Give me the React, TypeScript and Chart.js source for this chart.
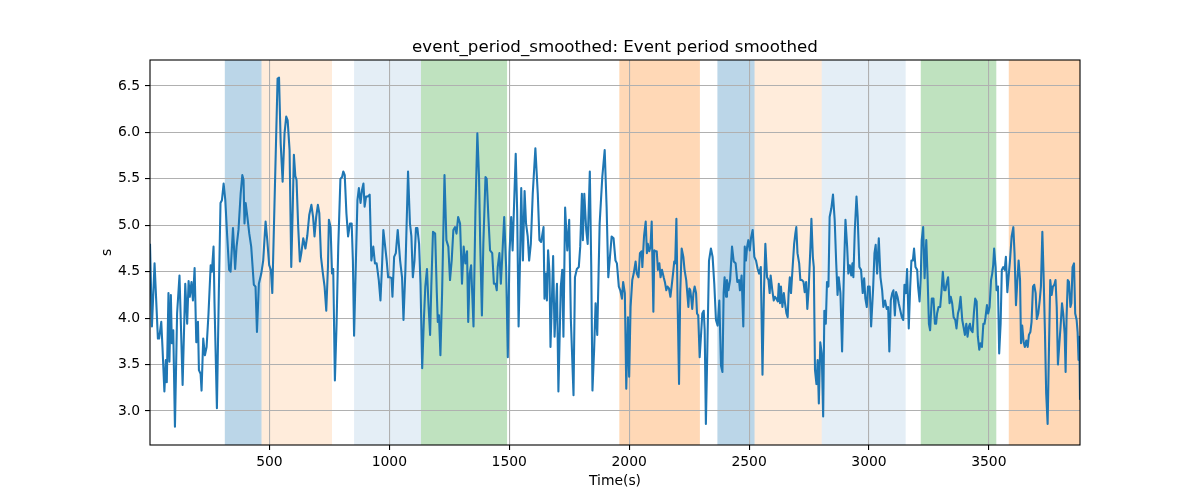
import React, { useEffect, useRef } from 'react';
import { Chart, registerables } from 'chart.js';

Chart.register(...registerables);

// ---- data -------------------------------------------------------------
const timeSec: number[] = [
  // 0 - 490
  2, 10, 21, 35, 40, 49, 54, 62, 68, 72, 79, 83, 89, 93, 99, 106, 115, 125, 138, 149,
  157, 163, 168, 175, 181, 188, 195, 202, 206, 213, 217, 224, 231, 238, 246, 255, 260, 267, 271, 281,
  289, 296, 302, 309, 316, 324, 332, 338, 348, 357, 363, 371, 380, 387, 392, 396, 401, 408, 416, 424,
  435, 442, 448, 456, 466, 474, 484,
  // 490 - 980
  491, 499, 506, 512, 534, 540, 547, 555, 563, 570, 576, 584, 591, 597, 602, 608, 613, 620, 627, 633,
  641, 650, 658, 666, 675, 682, 688, 695, 702, 708, 715, 723, 730, 737, 744, 748, 755, 761, 766, 773,
  780, 787, 796, 803, 808, 814, 821, 828, 836, 843, 848, 853, 861, 867, 873, 880, 886, 892, 897, 903,
  910, 918, 925, 933, 940, 947, 956, 963, 970, 975,
  // 980 - 1450
  989, 995, 1003, 1009, 1013, 1020, 1027, 1035, 1045, 1053, 1059, 1067, 1078, 1086, 1092, 1098, 1105, 1111, 1117, 1124,
  1130, 1137, 1144, 1150, 1157, 1163, 1170, 1175, 1182, 1191, 1198, 1202, 1207, 1213, 1220, 1230, 1238, 1246, 1253, 1260,
  1267, 1274, 1280, 1287, 1295, 1303, 1310, 1317, 1324, 1329, 1335, 1341, 1351, 1359, 1367, 1374, 1379, 1386, 1392, 1401,
  1406, 1413, 1420, 1429, 1436, 1443, 1448,
  // 1450 - 1940
  1452, 1459, 1465, 1470, 1479, 1487, 1494, 1501, 1508, 1514, 1519, 1527, 1533, 1539, 1545, 1550, 1557, 1564, 1570, 1577,
  1583, 1590, 1598, 1609, 1619, 1626, 1633, 1643, 1647, 1653, 1657, 1662, 1668, 1672, 1679, 1683, 1689, 1699, 1705, 1715,
  1721, 1726, 1733, 1742, 1750, 1757, 1768, 1774, 1782, 1790, 1796, 1803, 1807, 1813, 1821, 1827, 1836, 1842, 1847, 1854,
  1860, 1867, 1877, 1888, 1898, 1906, 1913, 1920, 1927, 1935,
  // 1940 - 2410
  1943, 1949, 1957, 1963, 1970, 1975, 1982, 1988, 1995, 2000, 2006, 2013, 2019, 2027, 2032, 2039, 2045, 2052, 2055, 2062,
  2069, 2074, 2078, 2084, 2089, 2094, 2101, 2105, 2110, 2115, 2120, 2126, 2131, 2137, 2144, 2149, 2155, 2160, 2166, 2172,
  2177, 2183, 2188, 2192, 2197, 2202, 2208, 2213, 2219, 2226, 2231, 2238, 2247, 2251, 2255, 2259, 2263, 2268, 2273, 2279,
  2283, 2288, 2294, 2300, 2305, 2311, 2315, 2320, 2326, 2333, 2341, 2348, 2355, 2362, 2369, 2376, 2383, 2389, 2394, 2398,
  2404, 2408,
  // 2410 - 2900
  2414, 2421, 2429, 2436, 2444, 2451, 2458, 2462, 2469, 2476, 2482, 2487, 2492, 2497, 2503, 2508, 2515, 2522, 2529, 2536,
  2542, 2549, 2556, 2562, 2568, 2575, 2581, 2586, 2590, 2597, 2603, 2608, 2614, 2620, 2624, 2629, 2633, 2639, 2645, 2650,
  2656, 2661, 2665, 2670, 2675, 2681, 2688, 2693, 2697, 2702, 2709, 2714, 2721, 2727, 2732, 2738, 2743, 2749, 2756, 2760,
  2766, 2770, 2775, 2781, 2786, 2791, 2797, 2803, 2809, 2814, 2820, 2825, 2831, 2836, 2843, 2850, 2857, 2863, 2869, 2874,
  2881, 2888, 2895,
  // 2900 - 3380
  2902, 2909, 2914, 2920, 2926, 2931, 2935, 2941, 2948, 2953, 2960, 2967, 2974, 2980, 2985, 2991, 2996, 3003, 3009, 3017,
  3023, 3028, 3034, 3041, 3048, 3055, 3060, 3067, 3074, 3080, 3085, 3091, 3097, 3102, 3108, 3113, 3119, 3124, 3131, 3137,
  3143, 3148, 3154, 3159, 3166, 3172, 3177, 3183, 3188, 3194, 3201, 3205, 3211, 3216, 3220, 3226, 3232, 3239, 3244, 3250,
  3255, 3262, 3269, 3275, 3280, 3284, 3290, 3297, 3302, 3308, 3314, 3319, 3325, 3330, 3336, 3341, 3347, 3353, 3360, 3365,
  3371, 3376,
  // 3380 - 3880
  3382, 3389, 3394, 3400, 3406, 3411, 3417, 3421, 3426, 3432, 3438, 3443, 3449, 3454, 3460, 3465, 3471, 3477, 3482, 3486,
  3492, 3497, 3503, 3509, 3514, 3518, 3522, 3528, 3532, 3538, 3543, 3549, 3554, 3560, 3566, 3571, 3577, 3582, 3588, 3595,
  3602, 3607, 3613, 3618, 3624, 3630, 3634, 3639, 3645, 3650, 3656, 3662, 3667, 3673, 3678, 3684, 3689, 3695, 3700, 3706,
  3712, 3717, 3723, 3728, 3734, 3739, 3745, 3751, 3756, 3762, 3767, 3773, 3778, 3783, 3788, 3794, 3799, 3805, 3810, 3816,
  3820, 3824, 3829, 3834, 3840, 3844, 3849, 3855, 3860, 3866, 3870, 3874, 3877, 3880,
];

const periodSec: number[] = [
  // 0 - 490
  4.80, 3.91, 4.59, 3.78, 3.78, 3.96, 3.69, 3.21, 3.55, 3.31, 4.27, 3.53, 4.25, 3.73, 3.87, 2.83, 4.05, 4.46, 3.28, 4.37,
  3.94, 4.40, 4.23, 4.39, 4.19, 4.54, 3.74, 3.96, 3.44, 3.40, 3.22, 3.78, 3.60, 3.69, 4.05, 4.57, 4.50, 4.77, 4.16, 3.03,
  4.27, 5.24, 5.27, 5.45, 5.27, 4.88, 4.52, 4.50, 4.97, 4.53, 4.77, 4.95, 5.34, 5.54, 5.49, 5.02, 5.24, 5.09, 4.91, 4.77,
  4.36, 4.34, 3.85, 4.37, 4.48, 4.62, 5.04,
  // 490 - 980
  4.84, 4.57, 4.52, 4.27, 6.58, 6.59, 5.88, 5.47, 5.99, 6.17, 6.13, 5.81, 4.55, 5.16, 5.76, 5.53, 5.49, 4.98, 4.61, 4.70,
  4.86, 4.75, 4.89, 5.11, 5.22, 5.09, 4.88, 5.09, 5.22, 5.13, 4.66, 4.48, 4.34, 4.08, 4.55, 5.06, 4.98, 4.48, 4.53, 3.33,
  3.94, 4.77, 5.50, 5.52, 5.58, 5.54, 5.13, 4.88, 5.02, 5.02, 4.62, 3.81, 4.66, 5.27, 5.40, 5.24, 5.38, 5.45, 5.20, 5.31,
  5.31, 5.33, 4.62, 4.77, 4.59, 4.59, 4.41, 4.19, 4.59, 4.95,
  // 980 - 1450
  4.62, 4.44, 4.44, 4.43, 4.23, 4.66, 4.70, 4.95, 4.62, 4.44, 3.98, 4.52, 5.58, 5.02, 4.88, 4.44, 4.62, 4.97, 4.97, 4.80,
  4.37, 3.46, 3.98, 4.34, 4.53, 4.16, 3.82, 4.34, 4.93, 4.91, 4.27, 3.96, 4.03, 3.60, 4.27, 5.54, 4.84, 4.77, 4.41, 4.62,
  4.95, 4.98, 4.91, 5.09, 5.02, 4.37, 4.77, 4.59, 4.72, 3.96, 4.48, 4.57, 3.91, 5.16, 5.99, 5.52, 4.80, 4.03, 4.80, 5.52,
  5.50, 5.09, 4.73, 4.70, 4.37, 4.37, 4.30,
  // 1450 - 1940
  4.55, 4.70, 4.37, 4.62, 5.09, 4.55, 3.58, 4.70, 5.09, 4.73, 5.13, 5.77, 5.16, 3.91, 4.62, 5.40, 4.62, 5.37, 5.02, 4.88,
  4.62, 4.80, 5.34, 5.83, 5.34, 4.84, 4.82, 4.98, 4.21, 4.48, 4.19, 4.73, 4.48, 3.69, 4.30, 4.67, 3.80, 4.37, 3.21, 4.34,
  4.52, 3.80, 5.19, 4.73, 5.06, 3.98, 3.17, 4.44, 4.53, 4.55, 4.77, 5.34, 4.84, 5.34, 4.95, 4.80, 5.58, 4.55, 3.22, 3.66,
  4.16, 3.82, 5.02, 5.52, 5.81, 5.20, 4.44, 4.66, 4.88, 4.86,
  // 1940 - 2410
  4.62, 4.59, 4.34, 4.30, 4.21, 4.39, 4.27, 3.24, 4.01, 3.37, 4.12, 4.41, 4.48, 4.61, 4.48, 4.44, 4.70, 4.72, 4.55, 4.88,
  5.04, 4.70, 4.80, 4.72, 4.77, 5.04, 4.07, 4.73, 4.72, 4.72, 4.52, 4.59, 4.44, 4.52, 4.44, 4.39, 4.30, 4.34, 4.32, 4.23,
  4.34, 4.48, 4.61, 4.59, 5.07, 4.19, 3.29, 4.27, 4.75, 4.66, 4.52, 4.41, 4.12, 4.32, 4.30, 4.21, 4.10, 4.27, 4.34, 4.27,
  4.05, 4.03, 3.58, 3.83, 4.05, 4.08, 3.87, 2.86, 3.66, 4.62, 4.75, 4.66, 4.37, 3.98, 3.92, 4.19, 3.49, 3.42, 4.27, 4.44,
  4.23, 4.41,
  // 2410 - 2900
  4.30, 4.41, 4.77, 4.61, 4.59, 4.39, 4.41, 4.30, 4.46, 3.91, 4.77, 4.62, 4.77, 4.84, 4.73, 4.86, 4.95, 4.66, 4.62, 4.53,
  4.48, 4.55, 3.39, 4.27, 4.80, 4.44, 4.41, 4.27, 4.46, 4.30, 4.19, 4.23, 4.21, 4.18, 4.37, 4.16, 4.34, 4.12, 4.27, 4.16,
  4.05, 4.01, 4.27, 4.44, 4.27, 4.52, 4.80, 4.91, 4.98, 4.70, 4.59, 4.41, 4.41, 4.39, 4.28, 4.39, 4.10, 4.34, 4.77, 5.07,
  4.66, 4.55, 3.44, 3.29, 3.55, 3.08, 3.74, 3.62, 2.94, 4.08, 3.94, 4.39, 4.34, 5.09, 5.18, 5.33, 5.06, 4.62, 4.25, 4.44,
  4.27, 3.64, 4.44,
  // 2900 - 3380
  5.06, 4.77, 4.48, 4.57, 4.46, 4.59, 4.44, 4.95, 5.31, 5.09, 4.55, 4.52, 4.27, 4.43, 4.21, 4.12, 4.34, 4.34, 3.91, 4.30,
  4.70, 4.79, 4.48, 4.86, 4.44, 4.30, 4.12, 4.19, 4.10, 4.12, 3.64, 4.19, 4.27, 4.30, 4.03, 4.28, 4.23, 4.16, 4.08, 4.01,
  3.98, 4.36, 4.27, 4.53, 3.89, 4.34, 4.62, 4.62, 4.75, 4.55, 4.52, 4.34, 4.18, 4.44, 4.84, 4.98, 4.43, 4.84, 4.48, 3.94,
  3.87, 4.21, 4.21, 3.94, 3.94, 4.05, 4.12, 4.12, 4.27, 4.50, 4.30, 4.30, 4.39, 4.44, 4.16, 4.23, 4.16, 4.01, 3.98, 3.89,
  4.05, 4.10,
  // 3380 - 3880
  4.23, 3.98, 3.91, 3.82, 3.94, 3.80, 3.91, 3.94, 3.87, 3.85, 4.07, 4.21, 4.18, 3.80, 3.66, 3.73, 3.69, 3.94, 3.94, 4.01,
  4.14, 4.05, 4.12, 4.41, 4.48, 4.57, 4.75, 4.55, 4.30, 4.34, 3.62, 3.94, 4.52, 4.55, 4.52, 4.66, 4.28, 4.44, 4.62, 4.88,
  4.98, 4.70, 4.14, 4.37, 4.62, 4.41, 3.73, 3.92, 3.74, 3.69, 3.76, 3.69, 3.82, 3.85, 3.96, 4.34, 4.36, 4.27, 3.99, 4.05,
  4.19, 4.34, 4.93, 4.48, 3.83, 3.19, 2.86, 3.73, 4.41, 4.25, 4.34, 4.36, 4.41, 4.12, 3.50, 3.73, 3.91, 4.16, 4.05, 3.83,
  3.42, 4.01, 4.41, 4.39, 4.12, 4.16, 4.55, 4.59, 4.05, 3.98, 3.85, 3.55, 3.80, 3.12,
];

// shaded event intervals (seconds) and their kind
const bandStart: number[] = [314, 467, 853, 1132, 1959, 2368, 2523, 2803, 3216, 3583];
const bandEnd: number[] = [467, 761, 1132, 1491, 2295, 2523, 2803, 3153, 3531, 3880];
const bandKind: string[] = ['A', 'B', 'C', 'D', 'E', 'A', 'B', 'C', 'D', 'E'];

const xTicks: number[] = [500, 1000, 1500, 2000, 2500, 3000, 3500];
const yTicks: number[] = [3.0, 3.5, 4.0, 4.5, 5.0, 5.5, 6.0, 6.5];
const yMin = 2.634;
const yMax = 6.78;

const titleText = 'event_period_smoothed: Event period smoothed';
const xLabelText = 'Time(s)';
const yLabelText = 's';

// ---- styles -----------------------------------------------------------
const BAND_FILL: Record<string, string> = {
  A: 'rgba(31,119,180,0.30)',
  B: 'rgba(255,127,14,0.15)',
  C: 'rgba(31,119,180,0.12)',
  D: 'rgba(44,160,44,0.30)',
  E: 'rgba(255,127,14,0.30)',
};
const FONT = '"DejaVu Sans", "Liberation Sans", sans-serif';

export default function App() {
  const canvasRef = useRef<HTMLCanvasElement | null>(null);

  useEffect(() => {
    const canvas = canvasRef.current;
    if (!canvas) return;

    const n = Math.min(timeSec.length, periodSec.length);
    const points = [] as { x: number; y: number }[];
    for (let i = 0; i < n; i++) points.push({ x: timeSec[i], y: periodSec[i] });

    const bandsPlugin = {
      id: 'bands',
      beforeDraw(chart: any) {
        const { ctx, chartArea: a, scales } = chart;
        const xs = scales.x;
        ctx.save();
        ctx.beginPath();
        ctx.rect(a.left, a.top, a.right - a.left, a.bottom - a.top);
        ctx.clip();
        for (let i = 0; i < bandStart.length; i++) {
          const x0 = xs.getPixelForValue(bandStart[i]);
          const x1 = xs.getPixelForValue(bandEnd[i]);
          ctx.fillStyle = BAND_FILL[bandKind[i]];
          ctx.fillRect(x0, a.top, x1 - x0, a.bottom - a.top);
        }
        ctx.restore();
      },
    };

    const framePlugin = {
      id: 'frame',
      afterDraw(chart: any) {
        const { ctx, chartArea: a } = chart;
        ctx.save();
        ctx.strokeStyle = '#000';
        ctx.lineWidth = 1.1;
        ctx.strokeRect(a.left, a.top, a.right - a.left, a.bottom - a.top);
        ctx.fillStyle = '#000';
        // title
        ctx.font = `16.67px ${FONT}`;
        ctx.textAlign = 'center';
        ctx.textBaseline = 'alphabetic';
        ctx.fillText(titleText, (a.left + a.right) / 2, 52);
        // x label
        ctx.font = `13.9px ${FONT}`;
        ctx.fillText(xLabelText, (a.left + a.right) / 2, 485);
        // y label
        ctx.translate(110.5, (a.top + a.bottom) / 2);
        ctx.rotate(-Math.PI / 2);
        ctx.textAlign = 'center';
        ctx.textBaseline = 'alphabetic';
        ctx.fillText(yLabelText, 0, 0);
        ctx.restore();
      },
    };

    const gridOpts = {
      color: '#b0b0b0',
      lineWidth: 1.1,
      drawTicks: true,
      tickLength: 5,
      tickColor: '#000',
      tickWidth: 1.1,
    };

    const chart = new Chart(canvas, {
      type: 'line',
      data: {
        datasets: [
          {
            data: points,
            borderColor: '#1f77b4',
            borderWidth: 2.08,
            borderJoinStyle: 'round',
            borderCapStyle: 'butt',
            pointRadius: 0,
            pointHoverRadius: 0,
            tension: 0,
            fill: false,
          },
        ],
      },
      options: {
        animation: false,
        responsive: false,
        maintainAspectRatio: false,
        events: [],
        layout: { padding: { top: 60, right: 120, left: 0, bottom: 0 } },
        plugins: {
          legend: { display: false },
          tooltip: { enabled: false },
          title: { display: false },
        },
        scales: {
          x: {
            type: 'linear',
            min: timeSec[0],
            max: timeSec[n - 1],
            afterBuildTicks: (s: any) => {
              s.ticks = xTicks.map((v) => ({ value: v }));
            },
            afterFit: (s: any) => {
              s.height = 55;
            },
            grid: gridOpts,
            border: { display: false },
            ticks: {
              color: '#000',
              font: { family: FONT, size: 13.9 },
              padding: 4,
              maxRotation: 0,
              autoSkip: false,
              callback: (v: any) => String(v),
            },
          },
          y: {
            type: 'linear',
            min: yMin,
            max: yMax,
            afterBuildTicks: (s: any) => {
              s.ticks = yTicks.map((v) => ({ value: v }));
            },
            afterFit: (s: any) => {
              s.width = 150;
            },
            grid: gridOpts,
            border: { display: false },
            ticks: {
              color: '#000',
              font: { family: FONT, size: 13.9 },
              padding: 5,
              autoSkip: false,
              callback: (v: any) => Number(v).toFixed(1),
            },
          },
        },
      },
      plugins: [bandsPlugin, framePlugin],
    } as any);

    return () => {
      chart.destroy();
    };
  }, []);

  return (
    <div style={{ position: 'absolute', left: 0, top: 0, width: 1200, height: 500, background: '#fff' }}>
      <canvas ref={canvasRef} width={1200} height={500} style={{ display: 'block', width: 1200, height: 500 }} />
    </div>
  );
}
